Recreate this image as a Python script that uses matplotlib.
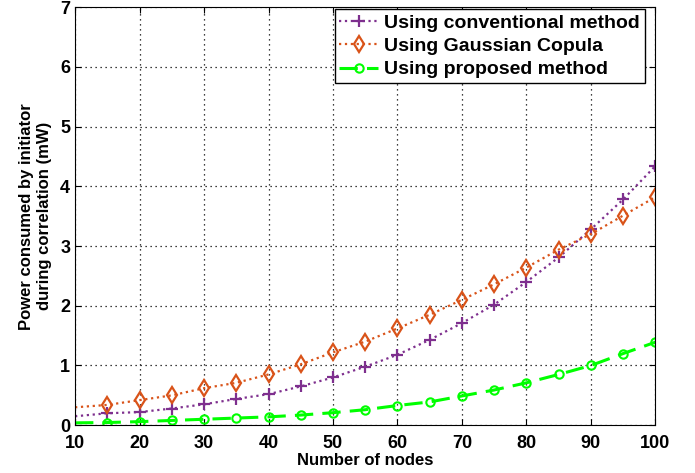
import numpy as np
import matplotlib.pyplot as plt

plt.rcParams['font.family'] = ['Liberation Sans', 'DejaVu Sans']
plt.rcParams['font.weight'] = 'bold'

# data
nodes = [10, 15, 20, 25, 30, 35, 40, 45, 50, 55, 60, 65, 70, 75, 80, 85, 90, 95, 100]
conventional = [0.15, 0.2, 0.22, 0.28, 0.35, 0.44, 0.52, 0.65, 0.8, 0.98,
                1.18, 1.43, 1.71, 2.02, 2.4, 2.81, 3.28, 3.78, 4.34]
copula = [0.3, 0.34, 0.42, 0.5, 0.62, 0.71, 0.85, 1.02, 1.22, 1.4,
          1.62, 1.85, 2.1, 2.36, 2.64, 2.94, 3.2, 3.51, 3.82]
proposed = [0.04, 0.045, 0.06, 0.08, 0.1, 0.12, 0.14, 0.17, 0.21, 0.26,
            0.33, 0.39, 0.49, 0.59, 0.71, 0.85, 1.0, 1.2, 1.39]

fig = plt.figure(figsize=(6.95, 4.73), dpi=100)
ax = fig.add_axes([0.108, 0.101, 0.835, 0.884])

ax.plot(nodes, conventional, ':', color='#7E2F8E', marker='+', markersize=9,
        markeredgewidth=1.6, linewidth=1.6, markevery=slice(1, None),
        label='Using conventional method')
ax.plot(nodes, copula, ':', color='#D95319', marker='d', markersize=8,
        markerfacecolor='none', markeredgewidth=1.6, linewidth=1.6,
        markevery=slice(1, None), label='Using Gaussian Copula')
ax.plot(nodes, proposed, '--', color='#00FF00', marker='o', markersize=6,
        markerfacecolor='none', markeredgewidth=1.5, linewidth=2.2,
        dashes=(6, 3), markevery=slice(1, None), label='Using proposed method')

ax.set_xlim(10, 100)
ax.set_ylim(0, 7)
ax.set_xticks(np.arange(10, 101, 10))
ax.set_yticks(np.arange(0, 8, 1))
ax.tick_params(direction='in', labelsize=13, top=True, right=True, length=4)
ax.tick_params(axis='x', pad=7)
for lbl in ax.get_xticklabels() + ax.get_yticklabels():
    lbl.set_fontweight('bold')
ax.grid(True, linestyle=(0, (1, 3)), color='black', linewidth=0.9)

ax.set_xlabel('Number of nodes', fontsize=12, fontweight='bold', labelpad=1)
ax.set_ylabel('Power consumed by initiator\nduring correlation (mW)',
              fontsize=12, fontweight='bold', labelpad=6)

leg = ax.legend(loc='upper right', bbox_to_anchor=(0.985, 1.0),
                prop={'weight': 'bold', 'size': 14}, fancybox=False,
                framealpha=1, edgecolor='black', handlelength=2.0,
                borderpad=0.25, labelspacing=0.3, handletextpad=0.3,
                borderaxespad=0.1)
leg.get_frame().set_linewidth(1.0)

fig.savefig('out.png', dpi=100)
